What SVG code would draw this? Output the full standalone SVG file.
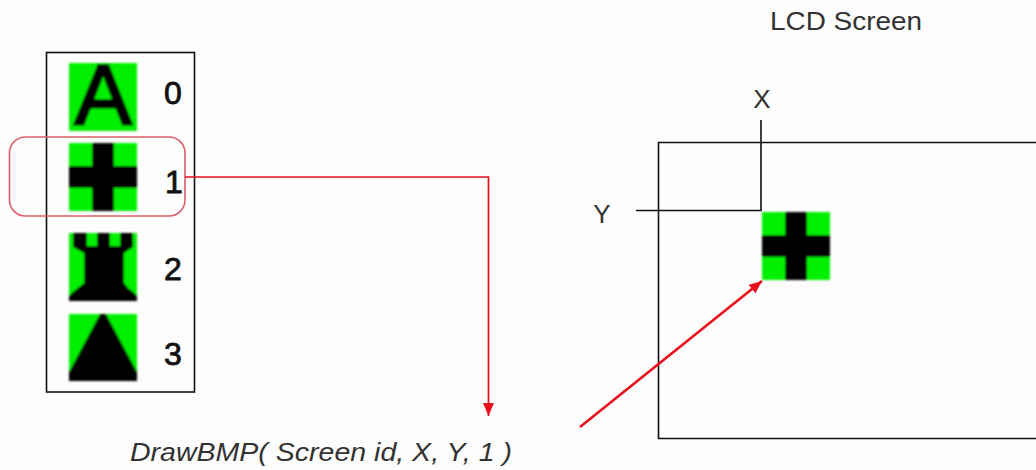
<svg xmlns="http://www.w3.org/2000/svg" width="1036" height="470" viewBox="0 0 1036 470">
<style>
.ln{fill:none;stroke:#111;stroke-width:1.6}
.red{fill:none;stroke:#e8101c;stroke-width:1.7}
.g{fill:#00f000}
.k{fill:#000}
.t{font-family:"Liberation Sans",Arial,sans-serif;fill:#333}
.num{font-size:32px;fill:#111;stroke:#111;stroke-width:.8}
</style>
<defs>
<filter id="soft" x="-5%" y="-5%" width="110%" height="110%"><feGaussianBlur stdDeviation="0.8"/></filter>
<marker id="tip" markerUnits="userSpaceOnUse" markerWidth="14" markerHeight="12" refX="13" refY="5.500" orient="auto"><path d="M0 0L13 5.500L0 11Z" fill="#e8101c"/></marker>
<g id="plus"><rect class="g" width="68" height="68"/><path class="k" d="M23 0h22v23h23v22h-23v23h-22v-23h-23v-22h23z"/></g>
</defs>
<rect width="1036" height="470" fill="#fdfdfd"/>
<g id="bitmap-list">
<rect class="ln" x="46.500" y="52.500" width="148" height="339.500"/>
</g>
<g id="icon-a" filter="url(#soft)"><rect class="g" x="69" y="63" width="68" height="68"/><text x="103" y="124" text-anchor="middle" font-family="Liberation Sans" font-size="85" class="k" stroke="#000" stroke-width="3">A</text></g>
<g id="label-0"><text class="t num" x="164" y="104">0</text></g>
<g id="icon-plus" filter="url(#soft)"><use href="#plus" x="69" y="143"/></g>
<g id="label-1"><text class="t num" x="165" y="193">1</text></g>
<g id="icon-tower" filter="url(#soft)"><rect class="g" x="69" y="233" width="68" height="68"/><path class="k" d="M73 233H133V247L124 253V283L128 288L133 292L137 296V301H69V296L73 292L78 288L84 283V253L73 247ZM87 233V246H97V233ZM110 233V246H120V233Z" fill-rule="evenodd"/></g>
<g id="label-2"><text class="t num" x="164" y="280">2</text></g>
<g id="icon-triangle" filter="url(#soft)"><rect class="g" x="69" y="314" width="68" height="67"/><path class="k" d="M100 314H106L137 372V381H69V372Z"/></g>
<g id="label-3"><text class="t num" x="164" y="365">3</text></g>
<g id="selection"><rect x="9.500" y="137" width="175.500" height="79" rx="16" fill="none" stroke="#d9606a" stroke-width="1.600"/></g>
<g id="lcd-screen">
<path class="ln" d="M1036 142.500H658.500V438.500H1036"/>
<text class="t" x="770" y="30" font-size="25" textLength="152" lengthAdjust="spacingAndGlyphs">LCD Screen</text>
</g>
<g id="coord-x"><text class="t" x="762" y="108" text-anchor="middle" font-size="26">X</text></g>
<g id="coord-y"><text class="t" x="602" y="223" text-anchor="middle" font-size="26">Y</text></g>
<g id="icon-plus-lcd" filter="url(#soft)"><use href="#plus" x="762" y="212"/></g>
<g id="call"><text class="t" x="130" y="461" font-size="25" font-style="italic" textLength="382" lengthAdjust="spacingAndGlyphs">DrawBMP( Screen id, X, Y, 1 )</text></g>
<g id="connectors">
<path class="ln" d="M761 120V210.500H636"/>
<path class="red" d="M185 177H488.500V416" marker-end="url(#tip)"/>
<path class="red" d="M580 427L762 281" style="stroke-width:2.600" marker-end="url(#tip)"/>
</g>
</svg>
